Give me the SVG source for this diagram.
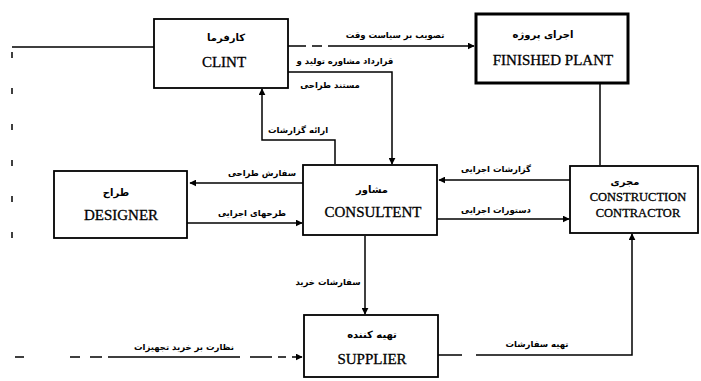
<svg xmlns="http://www.w3.org/2000/svg" width="701" height="381" viewBox="0 0 701 381">
<style>
.box{fill:#fff;stroke:#000;stroke-width:1.8}
.thick{stroke-width:3}
.en{font-family:"Liberation Serif",serif;font-size:15px;fill:#000;text-anchor:middle;stroke:#000;stroke-width:0.3}
.fa{font-family:"DejaVu Sans",sans-serif;font-size:8.5px;fill:#000;text-anchor:middle;font-weight:bold}
.fat{font-size:10px}
.ln{fill:none;stroke:#000;stroke-width:1.5}
</style>
<defs>
<marker id="ah" viewBox="0 0 10 10" refX="9" refY="5" markerWidth="7" markerHeight="7" orient="auto" markerUnits="userSpaceOnUse">
<path d="M0,0 L10,5 L0,10 z" fill="#000"/>
</marker>
</defs>
<rect width="701" height="381" fill="#fff"/>
<g id="connectors">
<path class="ln" d="M288,46 H306 M312,46 H322 M328,46 H474" marker-end="url(#ah)"/>
<path class="ln" d="M288,72 H392 V164" marker-end="url(#ah)"/>
<path class="ln" d="M335,164 V140 H262 V89" marker-end="url(#ah)"/>
<path class="ln" d="M600,83 V165"/>
<path class="ln" d="M154,47 H100 M108,47 H12"/>
<path class="ln" d="M12,52 V240" stroke-dasharray="6 30"/>
<path class="ln" d="M15,357 H24 M70,357 H80 M90,357 H102 M108,357 H240 M250,357 H272 M278,357 H286 M292,357 H302" marker-end="url(#ah)"/>
<path class="ln" d="M303,183 H190" marker-end="url(#ah)"/>
<path class="ln" d="M187,223 H302" marker-end="url(#ah)"/>
<path class="ln" d="M570,180 H439" marker-end="url(#ah)"/>
<path class="ln" d="M437,219 H569" marker-end="url(#ah)"/>
<path class="ln" d="M365,236 V314" marker-end="url(#ah)"/>
<path class="ln" d="M438,355 H462 M476,355 H632 V234" marker-end="url(#ah)"/>
</g>
<g id="labels" class="fa">
<text x="395" y="38">تصویب بر سیاست وقت</text>
<text x="345" y="64">قرارداد مشاوره تولید و</text>
<text x="330" y="88">مستند طراحی</text>
<text x="298" y="133">ارائه گزارشات</text>
<text x="262" y="176">سفارش طراحی</text>
<text x="252" y="216">طرحهای اجرایی</text>
<text x="496" y="172">گزارشات اجرایی</text>
<text x="496" y="213">دستورات اجرایی</text>
<text x="328" y="285">سفارشات خرید</text>
<text x="184" y="350">نظارت بر خرید تجهیزات</text>
<text x="537" y="347">تهیه سفارشات</text>
</g>
<g id="client">
<rect class="box" x="154" y="19" width="134" height="69"/>
<text class="fa fat" x="226" y="41">کارفرما</text>
<text class="en" x="224" y="67">CLINT</text>
</g>
<g id="finished">
<rect class="box thick" x="476" y="14" width="152" height="69"/>
<text class="fa fat" x="543" y="38">اجرای پروژه</text>
<text class="en" x="553" y="65">FINISHED PLANT</text>
</g>
<g id="designer">
<rect class="box" x="54" y="171" width="133" height="67"/>
<text class="fa fat" x="116" y="196">طراح</text>
<text class="en" x="121" y="220">DESIGNER</text>
</g>
<g id="consultent">
<rect class="box" x="303" y="165" width="134" height="70"/>
<text class="fa fat" x="372" y="193">مشاور</text>
<text class="en" x="373" y="217">CONSULTENT</text>
</g>
<g id="contractor">
<rect class="box" x="570" y="166" width="128" height="67"/>
<text class="fa fat" x="625" y="185">مجری</text>
<text class="en" x="638" y="201" style="font-size:12.5px">CONSTRUCTION</text>
<text class="en" x="638" y="217" style="font-size:12.5px">CONTRACTOR</text>
</g>
<g id="supplier">
<rect class="box" x="304" y="315" width="134" height="62"/>
<text class="fa fat" x="372" y="338">تهیه کننده</text>
<text class="en" x="372" y="364">SUPPLIER</text>
</g>
</svg>
